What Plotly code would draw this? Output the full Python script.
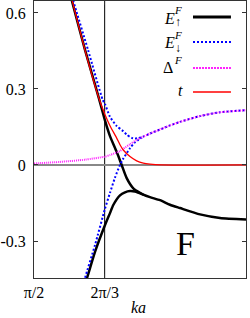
import math
import plotly.graph_objects as go

# ---- data (ka in units of pi) ----
e_up_hi_k = [0.575, 0.5889, 0.6203, 0.6533, 0.6675, 0.6792, 0.695, 0.7068, 0.7186, 0.7342, 0.7500, 0.7578,
             0.7736, 0.7972, 0.8208, 0.8443, 0.8915, 0.9387, 1.0]
e_up_hi_v = [0.74, 0.651, 0.454, 0.262, 0.175, 0.114, 0.052, 0.0, -0.052, -0.092, -0.110, -0.117,
             -0.127, -0.139, -0.157, -0.170, -0.195, -0.209, -0.215]
e_up_lo_k = [0.6179, 0.625, 0.6439, 0.6675, 0.6792, 0.687, 0.7028, 0.7146, 0.7264, 0.7382, 0.7578]
e_up_lo_v = [-0.48, -0.446, -0.343, -0.237, -0.19, -0.158, -0.12, -0.108, -0.103, -0.105, -0.117]

e_dn_hi_k = [0.5778, 0.592, 0.6274, 0.662, 0.6675, 0.6792, 0.695, 0.7106, 0.7186, 0.7304, 0.7382, 0.746,
             0.7578, 0.7736, 0.7972, 0.8208, 0.8443, 0.8915, 0.9387, 1.0]
e_dn_hi_v = [0.74, 0.651, 0.454, 0.257, 0.24, 0.19, 0.154, 0.133, 0.12, 0.107, 0.104, 0.106,
             0.112, 0.124, 0.140, 0.156, 0.170, 0.193, 0.208, 0.216]
e_dn_lo_k = [0.6132, 0.6203, 0.6439, 0.6675, 0.6792, 0.691, 0.7028, 0.7106, 0.7264, 0.7382, 0.746, 0.7578]
e_dn_lo_v = [-0.49, -0.446, -0.316, -0.172, -0.11, -0.05, 0.0, 0.025, 0.066, 0.09, 0.099, 0.112]

delta_k = [0.5, 0.5613, 0.6203, 0.6675, 0.6792, 0.7028, 0.7106, 0.7264, 0.7422, 0.7578, 0.7736, 0.7972,
           0.8208, 0.8443, 0.8915, 0.9387, 1.0]
delta_v = [0.006, 0.012, 0.021, 0.033, 0.039, 0.055, 0.064, 0.082, 0.099, 0.112, 0.124, 0.140,
           0.156, 0.170, 0.193, 0.208, 0.216]

t_k = [0.575, 0.5896, 0.6203, 0.6533, 0.6675, 0.6792, 0.695, 0.7028, 0.7106, 0.7264, 0.7422, 0.7578,
       0.7736, 0.80, 1.0]
t_v = [0.735, 0.651, 0.452, 0.262, 0.198, 0.155, 0.106, 0.08, 0.059, 0.033, 0.016, 0.007, 0.003, 0.0, 0.0]

x_tick_vals = [0.5, 2 / 3, 1.0]
x_tick_text = ["π/2", "2π/3", "π"]
y_tick_vals = [-0.3, 0, 0.3, 0.6]
y_tick_text = ["-0.3", "0", "0.3", "0.6"]

PI = math.pi


def kk(a):
    return [v * PI for v in a]


def join(k1, v1, k2, v2):
    return kk(k1) + [None] + kk(k2), v1 + [None] + v2


SERIF = "Liberation Serif"
SM = 0.6
MAG = "#ff22ff"
fig = go.Figure()

x, y = join(e_up_hi_k, e_up_hi_v, e_up_lo_k, e_up_lo_v)
fig.add_trace(go.Scatter(x=x, y=y, mode="lines", line=dict(color="black", width=2.5, shape="spline", smoothing=SM)))
x, y = join(e_dn_hi_k, e_dn_hi_v, e_dn_lo_k, e_dn_lo_v)
fig.add_trace(go.Scatter(x=x, y=y, mode="lines",
                         line=dict(color="#0000ff", width=2, dash="2px,2px", shape="spline", smoothing=SM)))
fig.add_trace(go.Scatter(x=kk(delta_k), y=delta_v, mode="lines",
                         line=dict(color=MAG, width=2, dash="1px,1px", shape="spline", smoothing=SM)))
fig.add_trace(go.Scatter(x=kk(t_k), y=t_v, mode="lines",
                         line=dict(color="#ff0000", width=1.3, shape="spline", smoothing=SM)))

# vertical line at 2pi/3
fig.add_shape(type="line", xref="x", yref="paper", x0=2 * PI / 3, x1=2 * PI / 3, y0=0, y1=1,
              line=dict(color="black", width=1), layer="below")

# manual legend (text left, sample right)
rows = [(0.9422, "black", "solid", 2.8), (0.852, "#0000ff", "2px,2px", 2),
        (0.758, MAG, "2px,1px", 2), (0.6715, "#ff0000", "solid", 1.3)]
for yy, c, d, w in rows:
    fig.add_shape(type="line", xref="paper", yref="paper", x0=0.75, x1=0.929, y0=yy, y1=yy,
                  line=dict(color=c, width=w, dash=d), layer="above")


def ann(xp, yp, text, size, italic=True):
    fig.add_annotation(xref="paper", yref="paper", x=xp, y=yp, text=text, showarrow=False,
                       xanchor="center", yanchor="middle",
                       font=dict(family=SERIF, size=size, color="black",
                                 style="italic" if italic else "normal"))


ann(0.637, 0.9386, "E", 16)
ann(0.681, 0.9693, "F", 11)
ann(0.681, 0.9224, "↑", 12, False)
ann(0.637, 0.8484, "E", 16)
ann(0.681, 0.8773, "F", 11)
ann(0.681, 0.830, "↓", 12, False)
ann(0.634, 0.7617, "Δ", 16, False)
ann(0.681, 0.787, "F", 11)
ann(0.689, 0.6787, "t", 16)
ann(0.7146, 0.1245, "F", 34, False)
# x axis title
fig.add_annotation(xref="paper", yref="paper", x=0.491, y=-0.105, text="<i>ka</i>", showarrow=False,
                   xanchor="center", yanchor="middle", font=dict(family=SERIF, size=16, color="black"))

axis_common = dict(showline=True, linecolor="#333", linewidth=1, mirror="ticks", ticks="inside",
                   ticklen=4, tickcolor="#333", showgrid=False, automargin=False,
                   tickfont=dict(family=SERIF, size=16, color="black"))
fig.update_layout(
    width=250, height=318, margin=dict(l=34, r=4, t=1, b=40),
    paper_bgcolor="white", plot_bgcolor="white", showlegend=False,
    xaxis=dict(range=[PI / 2, PI], tickvals=[v * PI for v in x_tick_vals], ticktext=x_tick_text,
               zeroline=False, **axis_common),
    yaxis=dict(range=[-0.446, 0.647], tickvals=y_tick_vals, ticktext=y_tick_text,
               zeroline=True, zerolinecolor="#888", zerolinewidth=1.5, ticklabelstandoff=4,
               **axis_common),
)
fig.write_html("out.html", config={"displayModeBar": False},
               post_script="document.body.style.margin='0';document.body.style.overflow='hidden';")
